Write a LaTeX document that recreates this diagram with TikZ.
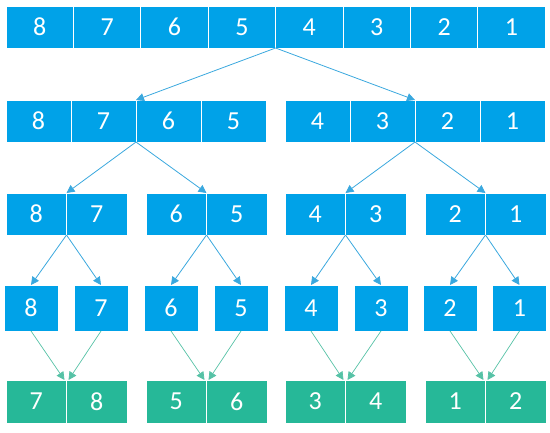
\documentclass[tikz,border=0pt]{standalone}
\usepackage{fontspec}
\setmainfont{Carlito}
\usetikzlibrary{arrows.meta}
\definecolor{cellblue}{RGB}{0,162,232}
\definecolor{cellgreen}{RGB}{38,184,152}
\definecolor{lineblue}{RGB}{58,168,222}
\definecolor{linegreen}{RGB}{86,194,166}
\tikzset{
  cell/.style={fill=cellblue, draw=white, line width=0.9pt, text=white,
    inner sep=0pt, outer sep=0pt, font=\fontsize{26}{26}\selectfont},
  topcell/.style={cell, minimum width=67.4pt, minimum height=42pt},
  halfcell/.style={cell, minimum width=65pt, minimum height=42pt},
  paircell/.style={cell, minimum width=60.5pt, minimum height=42pt},
  singlecell/.style={cell, minimum width=54pt, minimum height=46pt},
  mergedcell/.style={paircell, fill=cellgreen, minimum height=43pt},
  splitline/.style={draw=lineblue, line width=0.8pt, -{Triangle[width=8pt,length=8pt]}},
  mergeline/.style={draw=linegreen, line width=0.7pt, -{Triangle[width=8pt,length=8pt]}}
}
\begin{document}
\begin{tikzpicture}[x=1pt, y=-1pt]
\useasboundingbox (0,0) rectangle (550,432);
% row 1
\node[topcell] (a1) at (39.7,27) {8};
\node[topcell] (a2) at (107.1,27) {7};
\node[topcell] (a3) at (174.5,27) {6};
\node[topcell] (a4) at (241.9,27) {5};
\node[topcell] (a5) at (309.3,27) {4};
\node[topcell] (a6) at (376.7,27) {3};
\node[topcell] (a7) at (444.1,27) {2};
\node[topcell] (a8) at (511.5,27) {1};
% row 2
\node[halfcell] (b1) at (38.5,121) {8};
\node[halfcell] (b2) at (103.5,121) {7};
\node[halfcell] (b3) at (168.5,121) {6};
\node[halfcell] (b4) at (233.5,121) {5};
\node[halfcell] (b5) at (317.5,121) {4};
\node[halfcell] (b6) at (382.5,121) {3};
\node[halfcell] (b7) at (447.5,121) {2};
\node[halfcell] (b8) at (512.5,121) {1};
% row 3
\node[paircell] (c1) at (36.25,214) {8};
\node[paircell] (c2) at (96.75,214) {7};
\node[paircell] (c3) at (176.25,214) {6};
\node[paircell] (c4) at (236.75,214) {5};
\node[paircell] (c5) at (315.25,214) {4};
\node[paircell] (c6) at (375.75,214) {3};
\node[paircell] (c7) at (455.25,214) {2};
\node[paircell] (c8) at (515.75,214) {1};
% row 4
\node[singlecell] (d1) at (31,308) {8};
\node[singlecell] (d2) at (101,308) {7};
\node[singlecell] (d3) at (171,308) {6};
\node[singlecell] (d4) at (241,308) {5};
\node[singlecell] (d5) at (311,308) {4};
\node[singlecell] (d6) at (381,308) {3};
\node[singlecell] (d7) at (450,308) {2};
\node[singlecell] (d8) at (519.5,308) {1};
% row 5
\node[mergedcell] (e1) at (36.25,401.5) {7};
\node[mergedcell] (e2) at (96.75,401.5) {8};
\node[mergedcell] (e3) at (176.25,401.5) {5};
\node[mergedcell] (e4) at (236.75,401.5) {6};
\node[mergedcell] (e5) at (315.25,401.5) {3};
\node[mergedcell] (e6) at (375.75,401.5) {4};
\node[mergedcell] (e7) at (455.25,401.5) {1};
\node[mergedcell] (e8) at (515.75,401.5) {2};
% splitting
\draw[splitline] (a4.south east) -- (b2.north east);
\draw[splitline] (a4.south east) -- (b6.north east);
\draw[splitline] (b2.south east) -- (c1.north east);
\draw[splitline] (b2.south east) -- (c3.north east);
\draw[splitline] (b6.south east) -- (c5.north east);
\draw[splitline] (b6.south east) -- (c7.north east);
\draw[splitline] (c1.south east) -- (d1.north);
\draw[splitline] (c1.south east) -- (d2.north);
\draw[splitline] (c3.south east) -- (d3.north);
\draw[splitline] (c3.south east) -- (d4.north);
\draw[splitline] (c5.south east) -- (d5.north);
\draw[splitline] (c5.south east) -- (d6.north);
\draw[splitline] (c7.south east) -- (d7.north);
\draw[splitline] (c7.south east) -- (d8.north);
% merging
\draw[mergeline] (d1.south) -- ([xshift=-2pt]e1.north east);
\draw[mergeline] (d2.south) -- ([xshift=2pt]e1.north east);
\draw[mergeline] (d3.south) -- ([xshift=-2pt]e3.north east);
\draw[mergeline] (d4.south) -- ([xshift=2pt]e3.north east);
\draw[mergeline] (d5.south) -- ([xshift=-2pt]e5.north east);
\draw[mergeline] (d6.south) -- ([xshift=2pt]e5.north east);
\draw[mergeline] (d7.south) -- ([xshift=-2pt]e7.north east);
\draw[mergeline] (d8.south) -- ([xshift=2pt]e7.north east);
\end{tikzpicture}
\end{document}
